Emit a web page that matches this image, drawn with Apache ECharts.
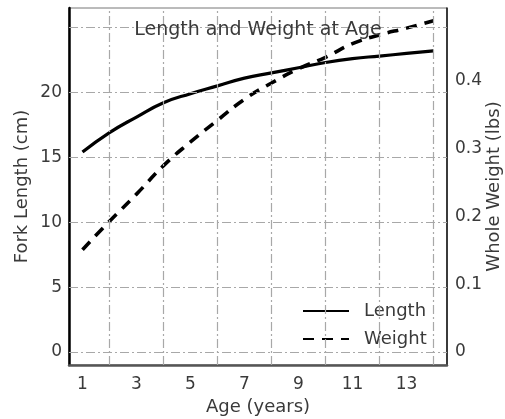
<!DOCTYPE html>
<html>
<head>
<meta charset="utf-8">
<script src="https://cdn.jsdelivr.net/npm/echarts@6/dist/echarts.min.js"></script>
<style>html,body{margin:0;padding:0;background:#fff}#c{width:505px;height:419px}</style>
</head>
<body>
<div id="c"></div>
<script>
// ---- data ----
const ages = [1,2,3,4,5,6,7,8,9,10,11,12,13,14];
const lengthCm = [15.4,16.9,18.1,19.2,19.9,20.5,21.1,21.5,21.9,22.3,22.6,22.8,23.0,23.2];
const weightLbs = [0.151,0.193,0.233,0.275,0.310,0.342,0.373,0.397,0.418,0.435,0.455,0.468,0.478,0.489];
const xTickLabels = [1,3,5,7,9,11,13];
const xGridValues = [2,4,6,8,10,12,14];
const leftTickLabels = [0,5,10,15,20];
const leftGridValues = [0,5,10,15,20,25];
const rightTickLabels = [0,0.1,0.2,0.3,0.4];

const FONT = 'DejaVu Sans';
const gridLine = {color:'#a8a8a8', width:1.2, type:[9,3,2,3]};

const chart = echarts.init(document.getElementById('c'), null, {renderer:'canvas'});
const option = {
  animation:false,
  backgroundColor:'#fff',
  textStyle:{fontFamily:FONT},
  title:{
    text:'Length and Weight at Age',
    left:258, top:21, textAlign:'center', padding:0,
    textStyle:{fontFamily:FONT, fontSize:19, fontWeight:'normal', color:'#3a3a3a'}
  },
  legend:{
    orient:'vertical', left:297, top:297, itemWidth:46, itemHeight:14, itemGap:10,
    data:['Length','Weight'],
    itemStyle:{opacity:0},
    textStyle:{fontFamily:FONT, fontSize:18, color:'#3a3a3a', padding:[0,0,0,10]}
  },
  grid:{left:69, right:58, top:8, bottom:54, show:true, borderColor:'#777', borderWidth:1,
        containLabel:false, outerBoundsMode:'none'},
  xAxis:{
    type:'value', min:0.5, max:14.5,
    name:'Age (years)', nameLocation:'middle', nameGap:33, nameMoveOverlap:false,
    nameTextStyle:{fontFamily:FONT, fontSize:18, color:'#3a3a3a'},
    axisLine:{show:true, onZero:false, lineStyle:{color:'#555', width:2.5}},
    axisTick:{show:false},
    splitLine:{show:false},
    axisLabel:{customValues:xTickLabels, margin:11, fontFamily:FONT, fontSize:17, color:'#3a3a3a'}
  },
  yAxis:[{
    type:'value', min:-1, max:26.5, position:'left',
    name:'Fork Length (cm)', nameLocation:'middle', nameGap:38, nameRotate:90, nameMoveOverlap:false,
    nameTextStyle:{fontFamily:FONT, fontSize:18, color:'#3a3a3a'},
    axisLine:{show:true, onZero:false, lineStyle:{color:'#000', width:2.5}},
    axisTick:{show:false},
    splitLine:{show:false},
    axisLabel:{customValues:leftTickLabels, margin:7, fontFamily:FONT, fontSize:17, color:'#3a3a3a'}
  },{
    type:'value', min:-0.0192, max:0.5077, position:'right',
    name:'Whole Weight (lbs)', nameLocation:'middle', nameGap:38, nameRotate:90, nameMoveOverlap:false,
    nameTextStyle:{fontFamily:FONT, fontSize:18, color:'#3a3a3a'},
    axisLine:{show:true, onZero:false, lineStyle:{color:'#111', width:1.5}},
    axisTick:{show:false},
    splitLine:{show:false},
    axisLabel:{customValues:rightTickLabels, margin:8, fontFamily:FONT, fontSize:17, color:'#3a3a3a',
      formatter:v=>String(Math.round(v*10)/10)}
  }],
  series:[{
    name:'grid', type:'line', data:[], z:1, silent:true,
    markLine:{
      silent:true, symbol:['none','none'], label:{show:false}, animation:false,
      lineStyle:gridLine, emphasis:{disabled:true},
      data: leftGridValues.map(v=>({yAxis:v})).concat(xGridValues.map(v=>({xAxis:v})))
    }
  },{
    name:'Length', type:'line', yAxisIndex:0, z:3, smooth:true, symbol:'none',
    data: ages.map((a,i)=>[a,lengthCm[i]]),
    lineStyle:{color:'#000', width:3.2, type:'solid'}
  },{
    name:'Weight', type:'line', yAxisIndex:1, z:3, smooth:true, symbol:'none',
    data: ages.map((a,i)=>[a,weightLbs[i]]),
    lineStyle:{color:'#000', width:3.6, type:[11,8], cap:'butt'}
  }]
};
chart.setOption(option);
</script>
</body>
</html>
